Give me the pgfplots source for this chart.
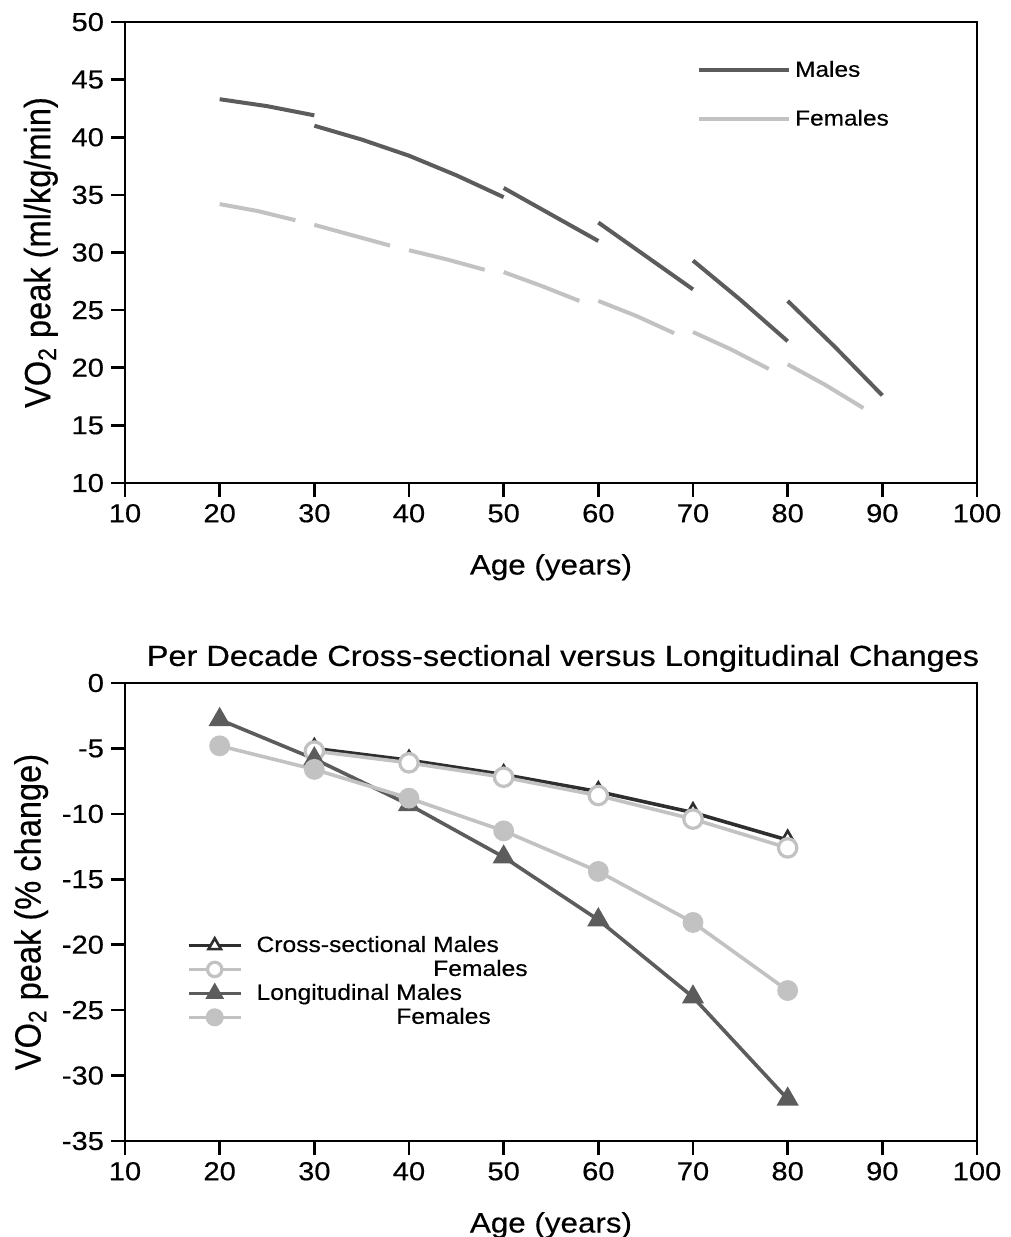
\documentclass[border=0pt]{standalone}
\usepackage{fontspec}
\setmainfont{Liberation Sans}[FakeStretch=1.12, FakeBold=0.4]
\newfontfamily\plainsans{Liberation Sans}[FakeBold=0.4]
\usepackage{graphicx}
\usepackage{pgfplots}
\pgfplotsset{compat=1.18}

\definecolor{mdark}{gray}{0.36}
\definecolor{flight}{gray}{0.76}
\definecolor{xdark}{gray}{0.18}

\pgfplotsset{
  panel/.style={
    scale only axis, width=426pt,
    xmin=10, xmax=100, xtick={10,20,...,100},
    axis line style={line width=1.3pt},
    every tick/.style={line width=1.3pt, black},
    tick align=outside, tick pos=left,
    major tick length=7pt,
    tick label style={font=\fontsize{13}{15}\selectfont},
    xlabel style={font=\fontsize{14}{16}\selectfont, yshift=-9pt},
    ylabel style={font=\plainsans\fontsize{16.3}{18}\selectfont},
    /pgf/number format/assume math mode=true,
    unbounded coords=jump,
    legend cell align=left,
    xlabel={Age (years)},
  }
}

\begin{document}
\begin{tikzpicture}
% top panel: VO2 peak by decade
\begin{axis}[panel, name=top, at={(0,0)}, anchor=south west,
  height=230.5pt, ymin=10, ymax=50, ytick={10,15,...,50},
  ylabel={\scalebox{1}[1.12]{VO\textsubscript{2} peak (ml/kg/min)}},
  legend style={draw=none, fill=none, font=\fontsize{10.9}{12}\selectfont,
    at={(axis cs:70.4,47.0)}, anchor=north west, inner sep=0pt, row sep=11pt},
  legend image code/.code={\draw[#1] (0pt,0pt) -- (45pt,0pt);},
]
\addplot[mdark, line width=2pt] coordinates {
  (20,43.3) (25,42.7) (30,41.9) (30,nan)
  (30,41.0) (35,39.8) (40,38.4) (45,36.7) (50,34.8) (50,nan)
  (50,35.6) (55,33.3) (60,31.0) (60,nan)
  (60,32.6) (65,29.7) (70,26.8) (70,nan)
  (70,29.3) (75,25.9) (80,22.3) (80,nan)
  (80,25.8) (85,21.8) (90,17.6)
};
\addlegendentry{Males}
\addplot[flight, line width=2pt] coordinates {
  (20,34.2) (24,33.6) (28,32.8) (28,nan)
  (30,32.4) (34,31.5) (38,30.6) (38,nan)
  (40,30.2) (44,29.4) (48,28.5) (48,nan)
  (50,28.3) (54,27.1) (58,25.8) (58,nan)
  (60,25.8) (64,24.5) (68,23.0) (68,nan)
  (70,23.1) (74,21.6) (78,19.9) (78,nan)
  (80,20.3) (84,18.5) (88,16.5)
};
\addlegendentry{Females}
\end{axis}

% bottom panel: per decade changes
\begin{axis}[panel, at={(0,-100pt)}, anchor=north west,
  height=229pt, ymin=-35, ymax=0, ytick={-35,-30,...,0},
  ylabel={\scalebox{1}[1.12]{VO\textsubscript{2} peak (\% change)}},
  title={Per Decade Cross-sectional versus Longitudinal Changes},
  title style={font=\fontsize{14.5}{16}\selectfont, yshift=-4pt, xshift=6pt},
  legend style={draw=none, fill=none, font=\fontsize{11}{12}\selectfont,
    at={(axis cs:16.5,-19.0)}, anchor=north west, inner sep=0pt, row sep=-1.5pt},
  legend image code/.code={\draw[mark repeat=2, mark phase=2, #1, mark size=3.6pt]
    plot coordinates {(0pt,0pt) (13pt,0pt) (26pt,0pt)}; \path (31pt,0pt);},
]
\addplot[xdark, line width=1.8pt, mark=triangle*, mark size=4.6pt,
  mark options={fill=white, draw=xdark, line width=1.3pt}] coordinates {
  (30,-5.0) (40,-5.9) (50,-7.0) (60,-8.3) (70,-9.9) (80,-12.0)
};
\addlegendentry{Cross-sectional Males}
\addplot[flight, line width=1.8pt, mark=*, mark size=4.6pt,
  mark options={fill=white, draw=flight, line width=1.6pt}] coordinates {
  (30,-5.2) (40,-6.1) (50,-7.2) (60,-8.6) (70,-10.4) (80,-12.6)
};
\addlegendentry{\phantom{Cross-sectional }Females}
\addplot[mdark, line width=1.8pt, mark=triangle*, mark size=4.6pt,
  mark options={fill=mdark, draw=mdark}] coordinates {
  (20,-2.8) (30,-5.8) (40,-9.3) (50,-13.3) (60,-18.1) (70,-24.0) (80,-31.8)
};
\addlegendentry{Longitudinal Males}
\addplot[flight, line width=1.8pt, mark=*, mark size=4.3pt,
  mark options={fill=flight, draw=flight}] coordinates {
  (20,-4.8) (30,-6.6) (40,-8.8) (50,-11.3) (60,-14.4) (70,-18.3) (80,-23.5)
};
\addlegendentry{\phantom{Longitudinal }Females}
\end{axis}

\pgfresetboundingbox
\path[use as bounding box] (-62.5pt,241.5pt) rectangle (443pt,-377pt);
\end{tikzpicture}
\end{document}
